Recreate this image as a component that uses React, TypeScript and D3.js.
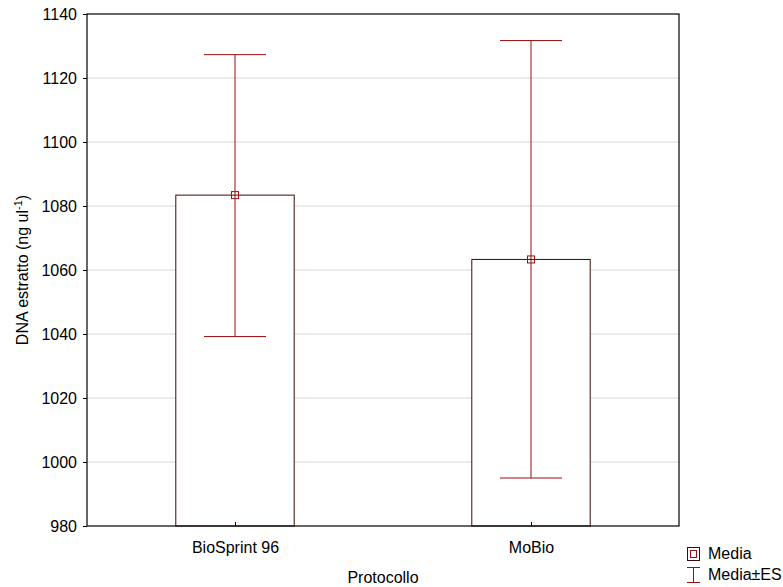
import React, { useEffect, useRef } from 'react'
import * as d3 from 'd3'

const categories = ['BioSprint 96', 'MoBio']
const means = [1083.4, 1063.3]
const upper = [1127.3, 1131.7]
const lower = [1039.2, 995.0]
const yTicks = [980, 1000, 1020, 1040, 1060, 1080, 1100, 1120, 1140]

const W = 783, H = 587
const margin = { left: 87, right: 104, top: 14, bottom: 61 }
const barColor = '#3a0a0a'
const errColor = '#990f0f'
const font = 'Liberation Sans, Arial, sans-serif'
const fs = 16

export default function App() {
  const ref = useRef<SVGSVGElement>(null)

  useEffect(() => {
    const svg = d3.select(ref.current)
    svg.selectAll('*').remove()
    const pw = W - margin.left - margin.right
    const ph = H - margin.top - margin.bottom

    const x = d3.scalePoint<string>().domain(categories).range([0, pw]).padding(0.5)
    const y = d3.scaleLinear().domain([980, 1140]).range([ph, 0])
    const barW = pw * 0.2
    const capW = 62

    const g = svg.append('g').attr('transform', `translate(${margin.left},${margin.top})`)

    // grid
    g.selectAll('line.grid').data(yTicks.slice(1, -1)).enter().append('line')
      .attr('x1', 0).attr('x2', pw)
      .attr('y1', d => y(d)).attr('y2', d => y(d))
      .attr('stroke', '#d8d8d8').attr('stroke-width', 1)

    // bars
    g.selectAll('rect.bar').data(categories).enter().append('rect')
      .attr('x', d => x(d)! - barW / 2)
      .attr('y', (d, i) => y(means[i]))
      .attr('width', barW)
      .attr('height', (d, i) => ph - y(means[i]))
      .attr('fill', 'white').attr('stroke', barColor).attr('stroke-width', 1)

    // error bars
    categories.forEach((c, i) => {
      const cx = x(c)!
      g.append('line').attr('x1', cx).attr('x2', cx).attr('y1', y(upper[i])).attr('y2', y(lower[i]))
        .attr('stroke', errColor).attr('stroke-width', 1)
      ;[upper[i], lower[i]].forEach(v => {
        g.append('line').attr('x1', cx - capW / 2).attr('x2', cx + capW / 2).attr('y1', y(v)).attr('y2', y(v))
          .attr('stroke', errColor).attr('stroke-width', 1)
      })
      g.append('rect').attr('x', cx - 3.5).attr('y', y(means[i]) - 3.5).attr('width', 7).attr('height', 7)
        .attr('fill', 'none').attr('stroke', errColor).attr('stroke-width', 1)
    })

    // frame
    g.append('rect').attr('x', 0).attr('y', 0).attr('width', pw).attr('height', ph)
      .attr('fill', 'none').attr('stroke', '#000').attr('stroke-width', 1.2)

    const yAxis = g.append('g').call(d3.axisLeft(y).tickValues(yTicks).tickSize(4).tickPadding(6).tickFormat(d3.format('d')))
    yAxis.select('.domain').remove()
    yAxis.selectAll('text').attr('font-family', font).attr('font-size', fs).attr('fill', '#000')
    yAxis.selectAll('line').attr('stroke', '#000')

    const xAxis = g.append('g').attr('transform', `translate(0,${ph})`)
      .call(d3.axisBottom(x).tickSizeInner(-4).tickSizeOuter(0).tickPadding(16))
    xAxis.select('.domain').remove()
    xAxis.selectAll('line').attr('stroke', '#000')
    xAxis.selectAll('text').attr('font-family', font).attr('font-size', fs).attr('fill', '#000')

    svg.append('text').attr('x', margin.left + pw / 2).attr('y', 583)
      .attr('text-anchor', 'middle').attr('font-family', font).attr('font-size', fs).text('Protocollo')

    const yl = svg.append('text').attr('transform', `translate(28,${margin.top + ph / 2}) rotate(-90)`)
      .attr('text-anchor', 'middle').attr('font-family', font).attr('font-size', fs)
    yl.append('tspan').text('DNA estratto (ng ul')
    yl.append('tspan').attr('dy', -6).attr('font-size', 11).text('-1')
    yl.append('tspan').attr('dy', 6).text(')')

    // legend
    const lg = svg.append('g').attr('transform', 'translate(687,547)')
    lg.append('rect').attr('x', 0.5).attr('y', 0.5).attr('width', 12).attr('height', 13)
      .attr('fill', 'none').attr('stroke', barColor)
    lg.append('rect').attr('x', 3.5).attr('y', 3.5).attr('width', 6).attr('height', 7)
      .attr('fill', 'none').attr('stroke', errColor)
    lg.append('text').attr('x', 21).attr('y', 12).attr('font-family', font).attr('font-size', fs).text('Media')
    lg.append('line').attr('x1', 6.5).attr('x2', 6.5).attr('y1', 20).attr('y2', 35).attr('stroke', errColor)
    lg.append('line').attr('x1', 0).attr('x2', 13).attr('y1', 20.5).attr('y2', 20.5).attr('stroke', errColor)
    lg.append('line').attr('x1', 0).attr('x2', 13).attr('y1', 35.5).attr('y2', 35.5).attr('stroke', errColor)
    lg.append('text').attr('x', 21).attr('y', 33).attr('font-family', font).attr('font-size', fs).text('Media±ES')
  }, [])

  return (
    <svg ref={ref} width={W} height={H} style={{ position: 'absolute', left: 0, top: 0, background: '#fff' }} />
  )
}
